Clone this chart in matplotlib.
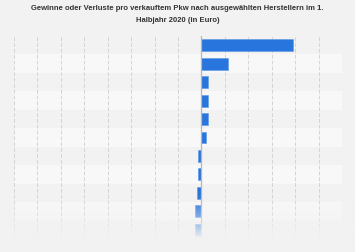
import numpy as np
import matplotlib
matplotlib.use("Agg")
from matplotlib import pyplot as plt

# values per car in Euro (labels are hidden in the reference)
makers = ["Hersteller 1", "Hersteller 2", "Hersteller 3", "Hersteller 4",
          "Hersteller 5", "Hersteller 6", "Hersteller 7", "Hersteller 8",
          "Hersteller 9", "Hersteller 10", "Hersteller 11"]
values = [7800, 2260, 580, 520, 520, 380, -320, -320, -360, -520, -520]
grid_ticks = list(range(-16000, 12001, 2000))

title = "Gewinne oder Verluste pro verkauftem Pkw nach ausgewählten Herstellern im 1.\nHalbjahr 2020 (in Euro)"

bg = "#f2f2f2"
band = "#f8f8f8"
blue = "#2876dd"

plt.rcParams['font.family'] = ['Liberation Sans', 'DejaVu Sans']

fig = plt.figure(figsize=(3.55, 2.53), dpi=100, facecolor=bg)
W, H = 355, 253
ax = fig.add_axes([14 / W, 1 - 240 / H, (342 - 14) / W, (240 - 37) / H])
ax.set_facecolor(bg)

n = len(makers)
ypos = np.arange(n)
for i in ypos:
    if i % 2 == 1:
        ax.axhspan(i - 0.5, i + 0.5, color=band, zorder=0, lw=0)

for t in grid_ticks:
    if t == 0:
        continue
    ax.axvline(t, color="#d4d4d4", lw=0.7, ls=(0, (4, 2)), zorder=1)
ax.axvline(0, color="#b5b5b5", lw=0.9, zorder=3)

ax.barh(ypos, values, height=0.65, color=blue, edgecolor="#5d97e6",
        lw=0.4, zorder=2)

ax.set_xlim(grid_ticks[0], grid_ticks[-1])
ax.set_ylim(n - 0.5, -0.5)
ax.set_xticks([])
ax.set_yticks([])
for s in ax.spines.values():
    s.set_visible(False)

# fade-out at the bottom (transparent at top, opaque at bottom)
fade = fig.add_axes([0, 0, 1, 1 - 195 / H])
grad = np.zeros((100, 2, 4))
grad[..., :3] = np.array([0xf2, 0xf2, 0xf2]) / 255
alpha = np.clip(np.linspace(0.0, 1.0, 100) ** 1.2 * 1.35, 0, 1)
grad[..., 3] = alpha[:, None]
fade.imshow(grad, aspect="auto", extent=[0, 1, 0, 1], origin="upper")
fade.axis("off")

fig.text(0.5, 1 - 14.5 / H, title, ha="center", va="center",
         fontsize=5.5, fontweight="bold", color="#333333", linespacing=2.05)

fig.savefig("out.png", dpi=100, facecolor=bg)
